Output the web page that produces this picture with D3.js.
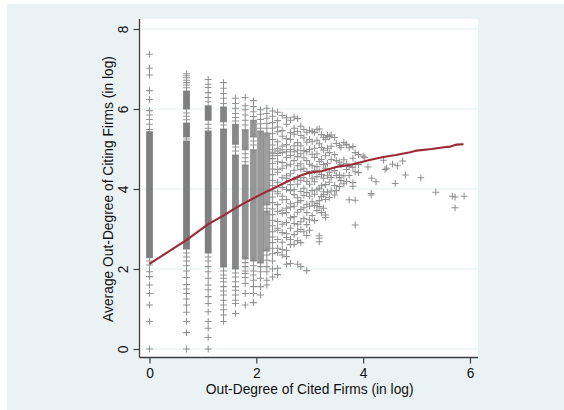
<!DOCTYPE html>
<html>
<head>
<meta charset="utf-8">
<script src="https://cdn.jsdelivr.net/npm/d3@7"></script>
<style>
  html, body { margin: 0; padding: 0; background: #fff; }
  svg { display: block; }
</style>
</head>
<body>
<svg id="chart" width="564" height="410"></svg>
<script>
// ---- Data (log scale values) ----
const xTicks = [0, 2, 4, 6];
const yTicks = [0, 2, 4, 6, 8];
const xTitle = "Out-Degree of Cited Firms (in log)";
const yTitle = "Average Out-Degree of Citing Firms (in log)";

// Low out-degree columns: x = ln(1) .. ln(10)
const columnX = [0, 0.693, 1.099, 1.386, 1.609, 1.792, 1.946, 2.079, 2.197, 2.303];
// Stretches where the observations overlap into a solid band: [low, high]
const denseRuns = [
  [[2.28, 5.43]],
  [[6.0, 6.45], [5.3, 5.65], [2.5, 5.2]],
  [[5.72, 6.08], [2.4, 5.45]],
  [[5.68, 6.05], [2.05, 5.5]],
  [[5.12, 5.62], [2.0, 4.85]],
  [[4.98, 5.48], [2.25, 4.6]],
  [[5.3, 5.72], [2.2, 4.98]],
  [[2.15, 5.45]],
  [[3.6, 5.4], [2.45, 3.45]],
  []
];
// How tightly each column's band is packed (1 = fully solid)
const runShade = [1, 1, 1, 0.95, 0.92, 0.85, 0.82, 0.8, 0.75, 0.7];
// Separate observations in the same columns
const columnPoints = [
  [7.37, 7.02, 6.85, 6.46, 6.24, 5.96, 5.85, 5.74, 5.62, 5.49, 2.2, 2.1, 1.93, 1.81, 1.6, 1.39, 1.1, 0.69, 0],
  [6.88, 6.83, 6.78, 6.72, 6.66, 6.6, 6.53, 5.9, 5.82, 5.73, 5.25, 2.4, 2.3, 2.2, 2.08, 1.95, 1.79, 1.61, 1.5, 1.39, 1.25, 1.1, 0.92, 0.69, 0.41, 0],
  [6.74, 6.62, 6.54, 6.41, 6.29, 6.18, 5.62, 5.52, 2.3, 2.2, 2.06, 1.93, 1.77, 1.6, 1.48, 1.31, 1.14, 0.93, 0.69, 0.52, 0.29, 0],
  [6.66, 6.52, 6.39, 6.27, 6.14, 5.6, 1.95, 1.85, 1.77, 1.68, 1.56, 1.45, 1.35, 1.22, 1.1, 0.98, 0.85, 0.69],
  [6.27, 6.14, 6.02, 5.89, 5.79, 5.7, 5.05, 4.95, 1.9, 1.8, 1.68, 1.56, 1.47, 1.35, 1.22, 1.14, 0.89],
  [6.29, 6.08, 5.98, 5.85, 5.72, 5.6, 4.88, 4.78, 4.68, 2.16, 2.06, 1.95, 1.89, 1.79, 1.64, 1.39, 1.1],
  [6.21, 6.06, 5.93, 5.81, 5.2, 5.1, 2.08, 1.95, 1.85, 1.72, 1.56, 1.39, 1.16],
  [5.98, 5.87, 5.74, 5.63, 5.52, 2.06, 1.93, 1.77, 1.56, 1.35],
  [6.02, 5.89, 5.77, 5.64, 5.52, 3.52, 2.35, 2.22, 2.06, 1.93, 1.72, 1.6],
  [5.95, 5.82, 5.66, 5.52, 5.38, 5.24, 5.1, 4.98, 4.92, 4.88, 4.83, 4.76, 4.63, 4.5, 4.36, 4.22, 4.08, 3.95, 3.8, 3.66, 3.5, 3.36, 3.22, 3.08, 2.93, 2.8, 2.66, 2.52, 2.38, 2.2, 2.0, 1.8]
];

// Scattered cloud: x = ln(11) .. ln(50)
const cloudX = [2.398, 2.485, 2.565, 2.639, 2.708, 2.773, 2.833, 2.890, 2.944, 2.996,
                3.045, 3.091, 3.135, 3.178, 3.219, 3.258, 3.296, 3.332, 3.367, 3.401,
                3.466, 3.497, 3.555, 3.584, 3.638, 3.689, 3.738, 3.807, 3.850, 3.912];
const cloudY = [
  [5.92, 5.71, 5.55, 5.43, 5.18, 5.02, 4.95, 4.89, 4.84, 4.68, 4.49, 4.42, 4.17, 3.93, 3.88, 3.61, 3.44, 3.19, 3.02, 2.97, 2.74, 2.52, 2.41, 2.02, 1.86],
  [5.84, 5.46, 5.32, 5.07, 4.98, 4.91, 4.66, 4.52, 4.28, 4.04, 3.82, 3.73, 3.47, 3.39, 3.12, 2.91, 2.67, 2.49, 2.35],
  [5.78, 5.62, 5.26, 5.11, 4.93, 4.79, 4.58, 4.33, 4.27, 3.99, 3.74, 3.52, 3.41, 3.16, 2.88, 2.79, 2.47, 2.31, 2.12],
  [5.72, 5.41, 5.24, 4.99, 4.84, 4.62, 4.38, 4.11, 3.96, 3.63, 3.55, 3.28, 3.02, 2.74, 2.61, 2.14],
  [5.8, 5.52, 5.37, 5.08, 4.93, 4.71, 4.47, 4.24, 3.98, 3.86, 3.57, 3.31, 3.14, 2.86, 2.62],
  [5.76, 5.44, 5.16, 4.97, 4.81, 4.58, 4.29, 4.12, 3.78, 3.67, 3.42, 3.12, 2.94, 2.71, 2.12],
  [5.57, 5.34, 5.08, 4.88, 4.63, 4.49, 4.22, 3.94, 3.71, 3.49, 3.18, 2.99, 2.66, 2.06],
  [5.49, 5.28, 4.96, 4.78, 4.52, 4.28, 4.02, 3.84, 3.53, 3.26, 2.93],
  [5.42, 5.17, 4.93, 4.71, 4.44, 4.19, 3.91, 3.62, 3.41, 3.11, 2.84, 1.96],
  [5.47, 5.24, 4.99, 4.62, 4.38, 4.12, 3.82, 3.57, 3.23, 2.97],
  [5.44, 5.18, 4.87, 4.58, 4.27, 3.96, 3.68, 3.34],
  [5.41, 5.02, 4.79, 4.46, 4.18, 3.87, 3.59, 3.21],
  [5.49, 5.22, 4.88, 4.56, 4.31, 3.98, 3.64, 3.46],
  [5.5, 5.13, 4.69, 4.43, 4.02, 3.71, 3.56, 2.83, 2.77, 2.68],
  [5.36, 5.04, 4.74, 4.36, 4.08, 3.81, 3.41],
  [5.29, 4.97, 4.61, 4.27, 3.93, 3.86, 3.52],
  [5.24, 4.83, 4.52, 4.11, 3.74, 3.35, 3.29],
  [5.34, 5.02, 4.64, 4.33, 3.92],
  [5.31, 4.91, 4.42, 4.17, 3.79],
  [5.35, 5.07, 4.74, 4.29, 3.95],
  [5.29, 4.86, 4.46, 4.09, 3.85],
  [5.14, 4.71, 4.34, 3.96],
  [5.09, 4.67, 4.35, 4.29, 4.06],
  [5.04, 4.61, 4.21],
  [5.16, 4.73, 4.33, 4.13],
  [5.12, 5.1, 4.63, 4.49, 4.19],
  [5.03, 4.56, 4.34, 3.73],
  [5.06, 4.77, 4.54, 4.16, 4.07],
  [4.91, 4.62, 4.43, 3.72, 3.1],
  [4.86, 4.61, 4.41]
];

// Highest out-degree firms
const tailX = [4.0, 4.03, 4.09, 4.15, 4.15, 4.16, 4.24, 4.38, 4.41, 4.44, 4.55, 4.6, 4.64, 4.74, 4.79, 5.08, 5.36, 5.67, 5.72, 5.72, 5.89];
const tailY = [4.82, 4.79, 4.55, 3.89, 3.85, 4.27, 4.18, 4.72, 4.49, 4.52, 4.62, 4.14, 4.58, 4.7, 4.35, 4.28, 3.92, 3.82, 3.8, 3.53, 3.82];

// Lowess smoother
const fitX = [0, 0.69, 1.1, 1.39, 1.61, 1.79, 1.95, 2.08, 2.2, 2.3, 2.45, 2.6, 2.72, 2.85, 3.0, 3.13, 3.23, 3.4, 3.53, 3.75, 3.94, 4.1, 4.27, 4.38, 4.61, 4.88, 5.0, 5.28, 5.55, 5.63, 5.75, 5.88];
const fitY = [2.13, 2.72, 3.12, 3.34, 3.52, 3.66, 3.77, 3.86, 3.94, 4.0, 4.1, 4.2, 4.27, 4.35, 4.41, 4.43, 4.45, 4.51, 4.56, 4.6, 4.66, 4.72, 4.77, 4.8, 4.85, 4.92, 4.96, 5.0, 5.05, 5.06, 5.11, 5.12];

// ---- Layout ----
const W = 564, H = 410;
const plot = { left: 139.5, top: 19, right: 478, bottom: 357.5 };
const FONT = "'Liberation Sans', Arial, Helvetica, sans-serif";
const FS = 13.8;
const MARK = "#7f7f7f";
const HALF = 3.4;

const svg = d3.select("#chart");

// outer graph region
svg.append("rect")
  .attr("x", 7).attr("y", 4).attr("width", W - 7).attr("height", H - 4)
  .attr("fill", "#eaf2f3");

// plot region
svg.append("rect")
  .attr("x", plot.left).attr("y", plot.top)
  .attr("width", plot.right - plot.left).attr("height", plot.bottom - plot.top)
  .attr("fill", "#ffffff");

const x = d3.scaleLinear().domain([0, 6]).range([149.5, 470]);
const y = d3.scaleLinear().domain([0, 8]).range([349, 29]);

// horizontal grid
svg.append("g").selectAll("line").data(yTicks).join("line")
  .attr("x1", plot.left).attr("x2", plot.right)
  .attr("y1", d => y(d)).attr("y2", d => y(d))
  .attr("stroke", "#e4edf0").attr("stroke-width", 1.2);

// marks
const marks = svg.append("g");

function crossPath(pairs) {
  return pairs.map(([a, b]) => {
    const px = x(a), py = y(b);
    return `M${px - HALF},${py}h${2 * HALF}M${px},${py - HALF}v${2 * HALF}`;
  }).join("");
}

// solid bands
const runRects = [];
columnX.forEach((cx, i) => denseRuns[i].forEach(r => runRects.push({ cx, lo: r[0], hi: r[1], shade: runShade[i] })));
marks.selectAll("rect.run").data(runRects).join("rect")
  .attr("class", "run")
  .attr("x", d => x(d.cx) - HALF)
  .attr("y", d => y(d.hi))
  .attr("width", 2 * HALF)
  .attr("height", d => y(d.lo) - y(d.hi))
  .attr("fill", MARK)
  .attr("fill-opacity", d => d.shade);

// crosses at ends of the bands plus all single observations
const singles = [];
runRects.forEach(d => { singles.push([d.cx, d.hi]); singles.push([d.cx, d.lo]); });
columnX.forEach((cx, i) => columnPoints[i].forEach(v => singles.push([cx, v])));
cloudX.forEach((cx, i) => cloudY[i].forEach(v => singles.push([cx, v])));
tailX.forEach((tx, i) => singles.push([tx, tailY[i]]));

marks.append("path")
  .attr("d", crossPath(singles))
  .attr("fill", "none")
  .attr("stroke", MARK)
  .attr("stroke-width", 1.05)
  .attr("stroke-opacity", 0.85);

// fitted line
svg.append("path")
  .datum(d3.zip(fitX, fitY))
  .attr("fill", "none")
  .attr("stroke", "#9b2a35")
  .attr("stroke-width", 2.1)
  .attr("stroke-linejoin", "round")
  .attr("d", d3.line().x(d => x(d[0])).y(d => y(d[1])));

// axes
const AXIS = "#3f3f3f";
const gx = svg.append("g").attr("transform", `translate(0,${plot.bottom})`)
  .call(d3.axisBottom(x).tickValues(xTicks).tickSize(6).tickPadding(5).tickFormat(d3.format("d")));
gx.select(".domain").remove();
gx.selectAll(".tick line").attr("stroke", AXIS).attr("stroke-width", 1.2);
gx.selectAll(".tick text").attr("fill", "#111").style("font-family", FONT).style("font-size", FS + "px");

const gy = svg.append("g").attr("transform", `translate(${plot.left},0)`)
  .call(d3.axisLeft(y).tickValues(yTicks).tickSize(6).tickFormat(d3.format("d")));
gy.select(".domain").remove();
gy.selectAll(".tick line").attr("stroke", AXIS).attr("stroke-width", 1.2);
gy.selectAll(".tick text")
  .attr("x", null).attr("dy", null)
  .attr("text-anchor", "middle")
  .attr("transform", "translate(-11.5,0) rotate(-90)")
  .attr("fill", "#111").style("font-family", FONT).style("font-size", FS + "px");

// axis lines
svg.append("line")
  .attr("x1", plot.left).attr("x2", plot.left)
  .attr("y1", plot.top).attr("y2", plot.bottom)
  .attr("stroke", AXIS).attr("stroke-width", 1.3);
svg.append("line")
  .attr("x1", plot.left).attr("x2", plot.right)
  .attr("y1", plot.bottom).attr("y2", plot.bottom)
  .attr("stroke", AXIS).attr("stroke-width", 1.3);

// titles
svg.append("text")
  .attr("x", (x(0) + x(6)) / 2).attr("y", 393.5)
  .attr("text-anchor", "middle")
  .attr("fill", "#111").style("font-family", FONT).style("font-size", FS + "px")
  .text(xTitle);
svg.append("text")
  .attr("transform", `translate(113,${(y(0) + y(8)) / 2}) rotate(-90)`)
  .attr("text-anchor", "middle")
  .attr("fill", "#111").style("font-family", FONT).style("font-size", FS + "px")
  .text(yTitle);
</script>
</body>
</html>
